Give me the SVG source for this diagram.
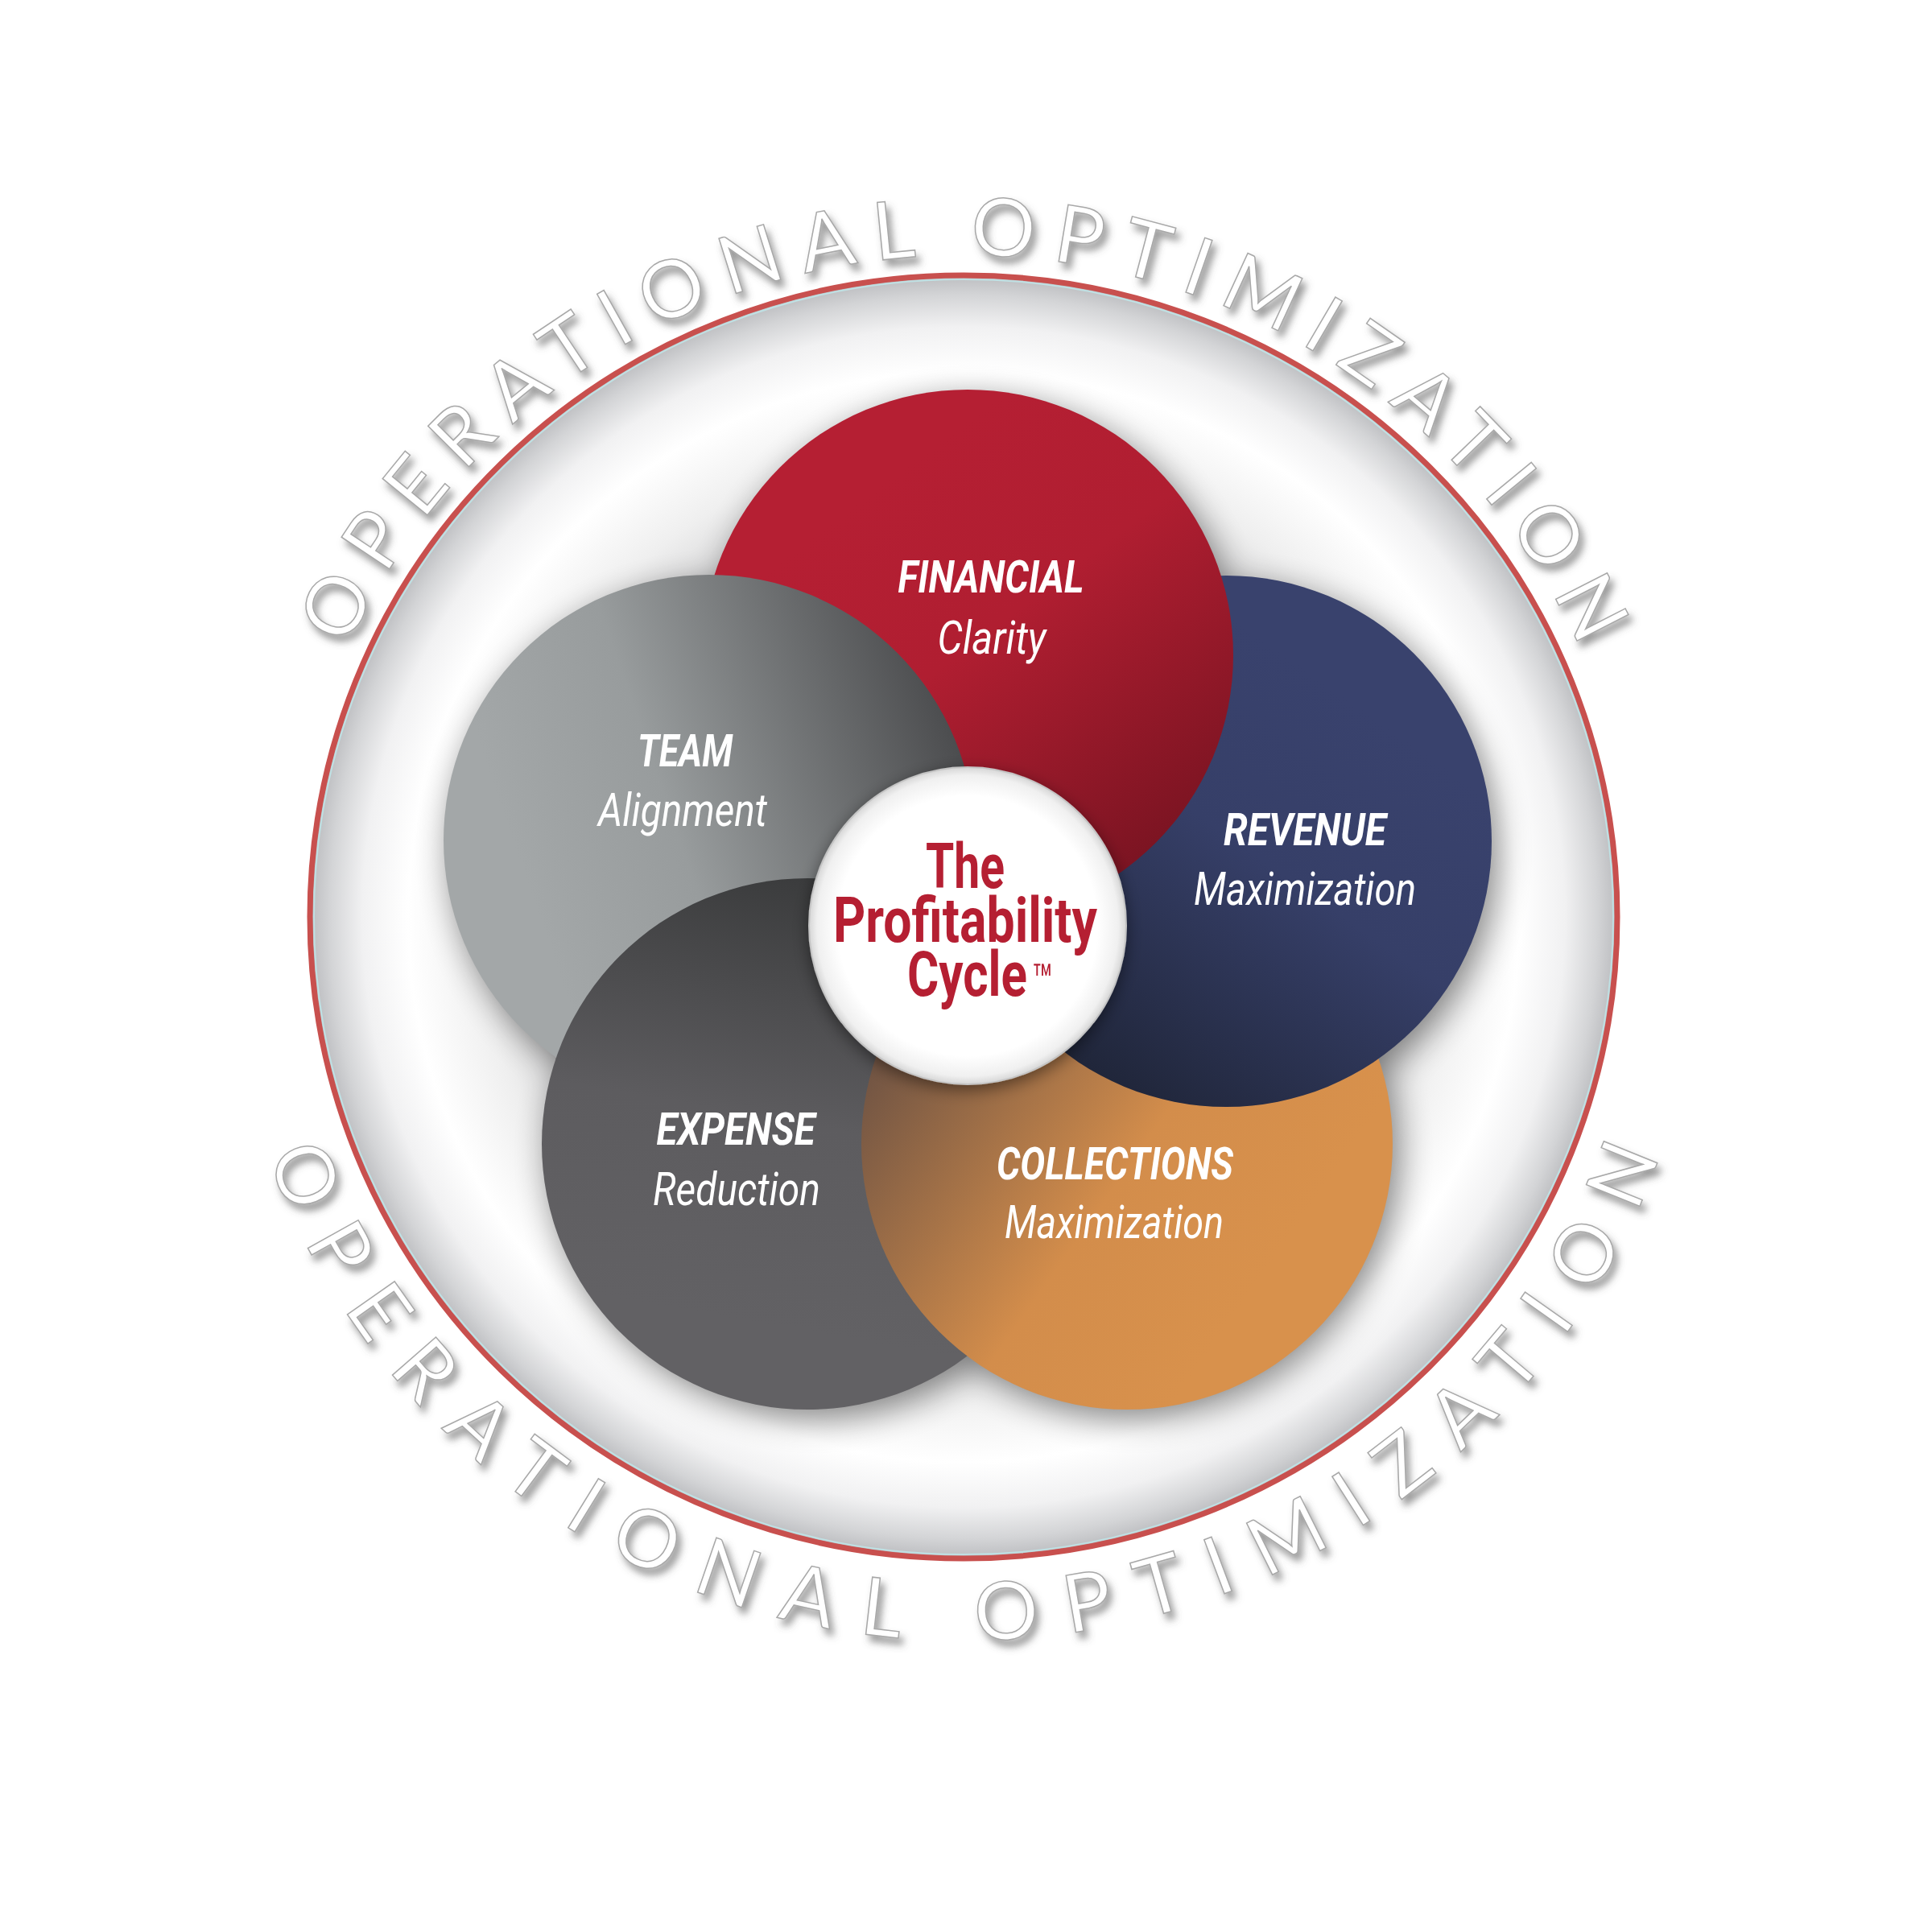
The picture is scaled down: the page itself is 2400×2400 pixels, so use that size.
<svg xmlns="http://www.w3.org/2000/svg" xmlns:xlink="http://www.w3.org/1999/xlink" width="2400" height="2400" viewBox="0 0 2400 2400">
<defs>
<style>
.lb{font-family:Roboto,"Liberation Sans",sans-serif;font-weight:700;font-style:italic;font-size:56px;fill:#fff;text-anchor:middle}
.li{font-family:Roboto,"Liberation Sans",sans-serif;font-weight:400;font-style:italic;font-size:58px;fill:#fff;text-anchor:middle}
.ct{font-family:Roboto,"Liberation Sans",sans-serif;font-weight:700;font-size:78px;fill:#b51f32}
.arc{font-family:Lato,"DejaVu Sans",sans-serif;font-size:100px;fill:#fff;stroke:#a8a8a8;stroke-width:1.5;filter:url(#tsh)}
</style>
<radialGradient id="gRing" cx="0.5" cy="0.5" r="0.5">
<stop offset="0" stop-color="#cfcfcf"/>
<stop offset="0.62" stop-color="#d2d2d3"/>
<stop offset="0.74" stop-color="#efefef"/>
<stop offset="0.85" stop-color="#ffffff"/>
<stop offset="0.92" stop-color="#f1f1f2"/>
<stop offset="0.97" stop-color="#d3d4d6"/>
<stop offset="1" stop-color="#bcbdc0"/>
</radialGradient>
<radialGradient id="gCenter" cx="0.5" cy="0.5" r="0.5">
<stop offset="0" stop-color="#ffffff"/>
<stop offset="0.82" stop-color="#ffffff"/>
<stop offset="0.95" stop-color="#f0f0f0"/>
<stop offset="1" stop-color="#d6d6d6"/>
</radialGradient>
<linearGradient id="gTeam" gradientUnits="userSpaceOnUse" x1="663" y1="1119" x2="1193" y2="936">
<stop offset="0" stop-color="#a3a7a8"/><stop offset="0.35" stop-color="#989c9d"/><stop offset="1" stop-color="#4c4d4f"/>
</linearGradient>
<linearGradient id="gFin" gradientUnits="userSpaceOnUse" x1="1061" y1="628" x2="1401" y2="1078">
<stop offset="0" stop-color="#b51f33"/><stop offset="0.4" stop-color="#b01e31"/><stop offset="1" stop-color="#7c1422"/>
</linearGradient>
<linearGradient id="gRev" gradientUnits="userSpaceOnUse" x1="1656" y1="856" x2="1334" y2="1315">
<stop offset="0" stop-color="#39426d"/><stop offset="0.4" stop-color="#363f68"/><stop offset="1" stop-color="#20263a"/>
</linearGradient>
<linearGradient id="gCol" gradientUnits="userSpaceOnUse" x1="1589" y1="1554" x2="1130" y2="1232">
<stop offset="0" stop-color="#d8914c"/><stop offset="0.38" stop-color="#d38d4b"/><stop offset="1" stop-color="#6d5243"/>
</linearGradient>
<linearGradient id="gExp" gradientUnits="userSpaceOnUse" x1="963" y1="1647" x2="1060" y2="1094">
<stop offset="0" stop-color="#626164"/><stop offset="0.45" stop-color="#5d5c5f"/><stop offset="1" stop-color="#3a3b3c"/>
</linearGradient>
<filter id="tsh" x="-20%" y="-20%" width="140%" height="140%">
<feDropShadow dx="5" dy="8" stdDeviation="5" flood-color="#555" flood-opacity="0.6"/>
</filter>
<filter id="blur" x="-20%" y="-20%" width="140%" height="140%">
<feGaussianBlur stdDeviation="20"/>
</filter>
<filter id="csh" x="-30%" y="-30%" width="160%" height="160%">
<feDropShadow dx="0" dy="6" stdDeviation="10" flood-color="#000" flood-opacity="0.45"/>
</filter>
<clipPath id="clipTeam"><circle cx="881" cy="1044" r="332"/></clipPath>
<path id="pTop" d="M359,1139 A838,822 0 0 1 2035,1139"/>
<path id="pBot" d="M281,1139 A916,899 0 0 0 2113,1139"/>
</defs>
<rect width="2400" height="2400" fill="#fff"/>
<g id="ring">
<ellipse cx="1197" cy="1139" rx="812" ry="797" fill="url(#gRing)" stroke="#c8504e" stroke-width="7"/>
<ellipse cx="1197" cy="1139" rx="807" ry="792" fill="none" stroke="#bfe0e3" stroke-width="2"/>
</g>
<g id="ring-label">
<text class="arc"><textPath href="#pTop" startOffset="50%" text-anchor="middle" textLength="1918" lengthAdjust="spacing">OPERATIONAL OPTIMIZATION</textPath></text>
<text class="arc"><textPath href="#pBot" startOffset="50%" text-anchor="middle" textLength="2245" lengthAdjust="spacing">OPERATIONAL OPTIMIZATION</textPath></text>
</g>
<g id="cluster-shadow" filter="url(#blur)" opacity="0.45" transform="translate(8,12)">
<circle cx="1202" cy="814" r="330"/>
<circle cx="881" cy="1044" r="330"/>
<circle cx="1523" cy="1045" r="330"/>
<circle cx="1003" cy="1421" r="330"/>
<circle cx="1400" cy="1421" r="330"/>
</g>
<g id="node-expense">
<circle cx="1003" cy="1421" r="330" fill="url(#gExp)"/>
<text class="lb" x="914" y="1422" textLength="197" lengthAdjust="spacingAndGlyphs">EXPENSE</text>
<text class="li" x="915" y="1497" textLength="208" lengthAdjust="spacingAndGlyphs">Reduction</text>
</g>
<g id="node-collections">
<circle cx="1400" cy="1421" r="330" fill="url(#gCol)"/>
<text class="lb" x="1385" y="1465" textLength="294" lengthAdjust="spacingAndGlyphs">COLLECTIONS</text>
<text class="li" x="1384" y="1538" textLength="272" lengthAdjust="spacingAndGlyphs">Maximization</text>
</g>
<g id="node-revenue">
<circle cx="1523" cy="1045" r="330" fill="url(#gRev)"/>
<text class="lb" x="1621" y="1050" textLength="202" lengthAdjust="spacingAndGlyphs">REVENUE</text>
<text class="li" x="1621" y="1124" textLength="276" lengthAdjust="spacingAndGlyphs">Maximization</text>
</g>
<g id="node-financial">
<circle cx="1202" cy="814" r="330" fill="url(#gFin)"/>
<text class="lb" x="1231" y="736" textLength="231" lengthAdjust="spacingAndGlyphs">FINANCIAL</text>
<text class="li" x="1232" y="812" textLength="135" lengthAdjust="spacingAndGlyphs">Clarity</text>
</g>
<g id="node-team">
<circle cx="881" cy="1044" r="330" fill="url(#gTeam)"/>
<text class="lb" x="851" y="952" textLength="118" lengthAdjust="spacingAndGlyphs">TEAM</text>
<text class="li" x="848" y="1026" textLength="210" lengthAdjust="spacingAndGlyphs">Alignment</text>
</g>
<g id="expense-over-team" clip-path="url(#clipTeam)">
<circle cx="1003" cy="1421" r="330" fill="url(#gExp)"/>
</g>
<g id="node-center">
<circle cx="1202" cy="1150" r="197" fill="url(#gCenter)" stroke="#c4c4c4" stroke-width="2" filter="url(#csh)"/>
<text class="ct" x="1199" y="1103" text-anchor="middle" textLength="98" lengthAdjust="spacingAndGlyphs">The</text>
<text class="ct" x="1199" y="1170" text-anchor="middle" textLength="328" lengthAdjust="spacingAndGlyphs">Profitability</text>
<text class="ct" x="1127" y="1237" textLength="182" lengthAdjust="spacingAndGlyphs">Cycle<tspan font-size="56" font-weight="400" dx="8">™</tspan></text>
</g>
</svg>
